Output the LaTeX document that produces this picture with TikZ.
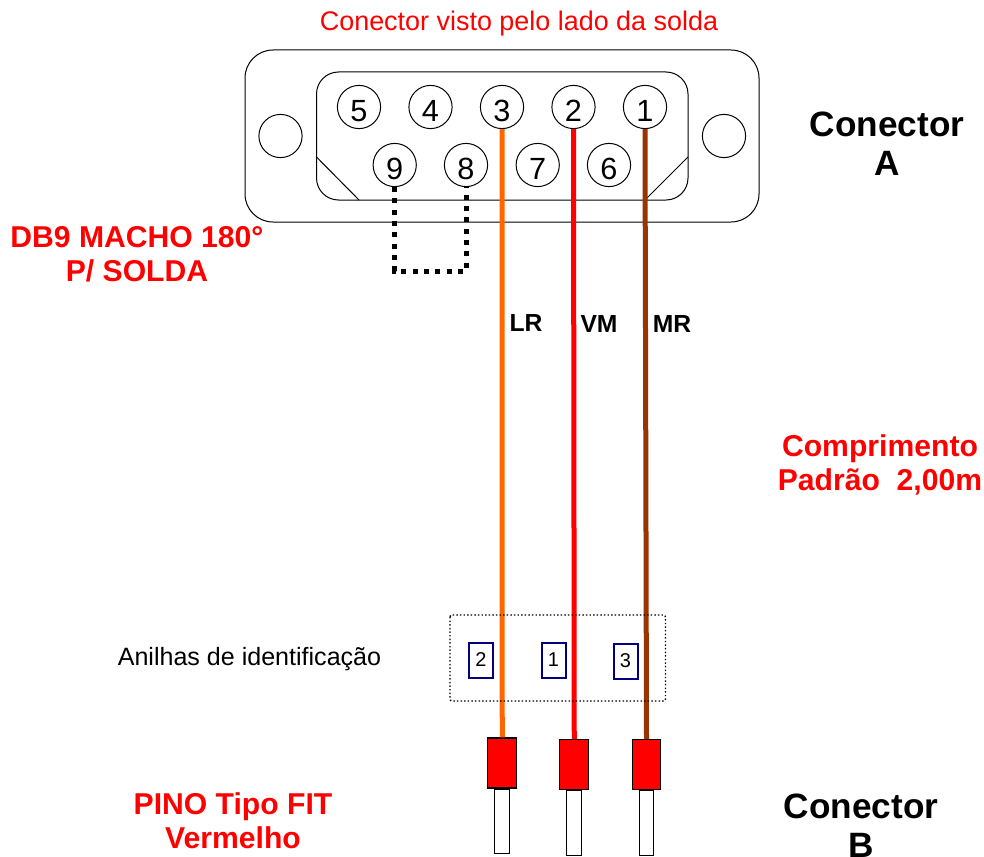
\documentclass[tikz,border=0pt]{standalone}
\usepackage{fontspec}
\setmainfont{Liberation Sans}
\definecolor{wirelr}{HTML}{FF6600}
\definecolor{wiremr}{HTML}{993300}
\definecolor{ringblue}{HTML}{000080}
\tikzset{
  x=0.75pt,y=-0.75pt,
  pinhole/.style={circle,draw=black,line width=0.75pt,minimum size=32.4pt,inner sep=0pt,fill=white,text height=21pt,text depth=0pt,font=\fontsize{23}{23}\selectfont},
  screw/.style={circle,draw=black,line width=0.75pt,minimum size=32.4pt,inner sep=0pt},
  shell/.style={draw=black,line width=0.75pt},
  wire/.style={line width=3.75pt},
  jumper/.style={line width=3.75pt,dash pattern=on 3.75pt off 4.75pt},
  ring/.style={draw=ringblue,line width=1.5pt,minimum width=18pt,minimum height=26.5pt,inner sep=0pt,text height=8.7pt,text depth=0pt,font=\fontsize{15}{15}\selectfont},
  crimp/.style={draw=black,fill=red,line width=0.8pt,minimum width=21.5pt,minimum height=37.5pt,inner sep=0pt},
  tip/.style={draw=black,fill=white,line width=0.8pt,minimum width=11pt,minimum height=48.5pt,inner sep=0pt},
  redtitle/.style={text=red,align=center,font=\fontsize{22.6}{25.5}\selectfont\bfseries},
  blacktitle/.style={text=black,align=center,font=\fontsize{26.4}{29.5}\selectfont\bfseries},
  wirelabel/.style={font=\fontsize{18.5}{20}\selectfont\bfseries},
  plain/.style={font=\fontsize{18.8}{22}\selectfont},
  headline/.style={font=\fontsize{20.2}{22}\selectfont},
}
\begin{document}
\begin{tikzpicture}
\useasboundingbox (0,0) rectangle (984,856);
\draw[shell,rounded corners=21pt] (245,50) rectangle (759,222);
\draw[shell,rounded corners=16.5pt] (316.5,72) rectangle (688,200);
\draw[shell] (316.5,157) -- (359,200);
\draw[shell] (688,157) -- (645,200);
\node[screw] (sl) at (280.5,136) {};
\node[screw] (sr) at (724,136) {};
\node[pinhole] (p5) at (359,107) {5};
\node[pinhole] (p4) at (430.5,107) {4};
\node[pinhole] (p3) at (502,107) {3};
\node[pinhole] (p2) at (573.5,107) {2};
\node[pinhole] (p1) at (645,107) {1};
\node[pinhole] (p9) at (394.7,165) {9};
\node[pinhole] (p8) at (466,165) {8};
\node[pinhole] (p7) at (537.7,165) {7};
\node[pinhole] (p6) at (609,165) {6};
\node[crimp] (c2) at (502.25,763) {};
\node[crimp] (c1) at (574.25,764.5) {};
\node[crimp] (c3) at (646.5,764.5) {};
\node[tip,anchor=north] (t2) at (c2.south) {};
\node[tip,anchor=north] (t1) at (c1.south) {};
\node[tip,anchor=north] (t3) at (c3.south) {};
\draw[wire,wirelr] (p3.south) -- (c2.north);
\draw[wire,red] (p2.south) -- (c1.north);
\draw[wire,wiremr] (p1.south) -- (c3.north);
\coordinate (j9) at (394.7,271);
\coordinate (j8) at (466,271);
\draw[jumper] (p9.south) -- (j9) -- (j8) -- (p8.south);
\draw[black,line width=1.1pt,dash pattern=on 1.1pt off 1.6pt,rounded corners=1.5pt] (450,615) rectangle (665.5,701);
\node[ring] (r2) at (481,660.3) {2};
\node[ring] (r1) at (553.5,660.3) {1};
\node[ring] (r3) at (625.5,661.3) {3};
\node[headline,text=red] (title) at (519,23.5) {Conector visto pelo lado da solda};
\node[blacktitle] (ca) at (887,144) {Conector\\A};
\node[redtitle] (db) at (137,254) {DB9 MACHO 180°\\P/ SOLDA};
\node[wirelabel] (lr) at (526,323) {LR};
\node[wirelabel] (vm) at (599,324) {VM};
\node[wirelabel] (mr) at (672,324) {MR};
\node[redtitle] (len) at (880,465) {Comprimento\\Padrão\ \ 2,00m};
\node[plain] (an) at (249.5,659) {Anilhas de identificação};
\node[redtitle] (pino) at (233,820.5) {PINO Tipo FIT\\Vermelho};
\node[blacktitle,anchor=north] (cb) at (861,789) {Conector\\B};
\end{tikzpicture}
\end{document}
